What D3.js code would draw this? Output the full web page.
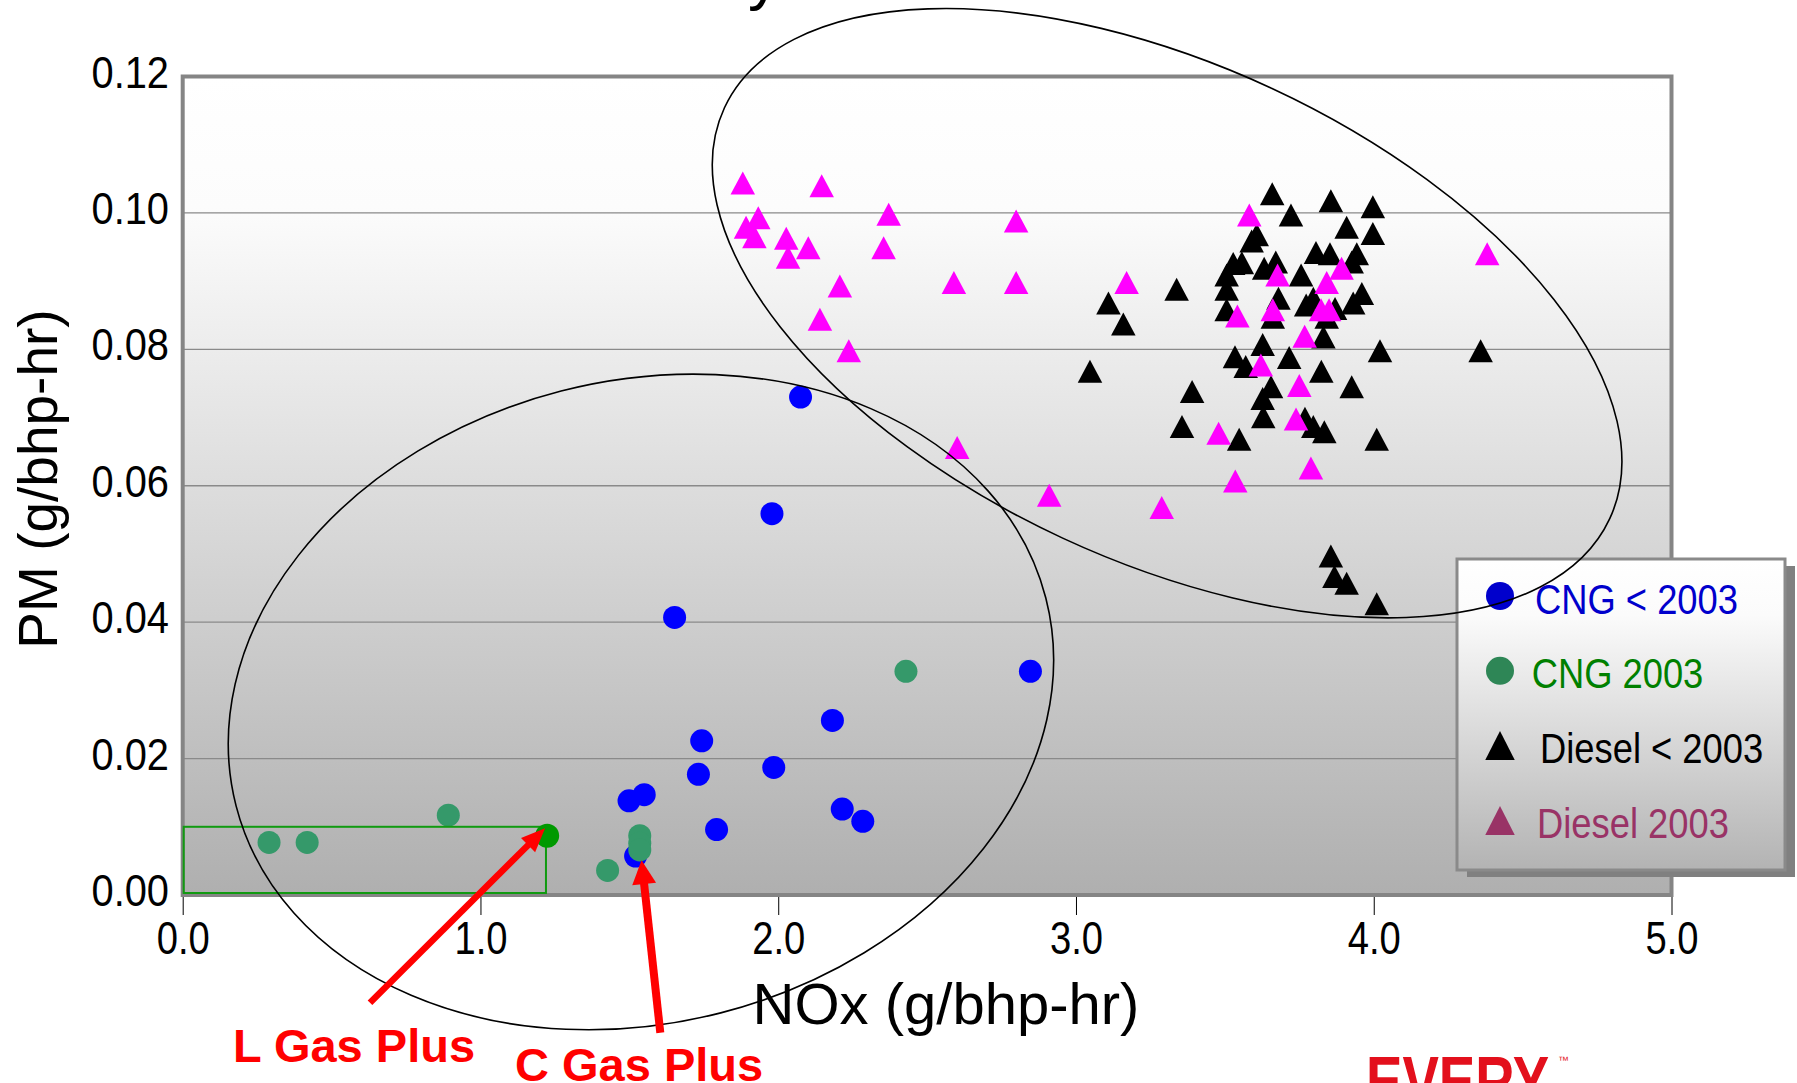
<!DOCTYPE html>
<html><head><meta charset="utf-8">
<script src="https://cdn.jsdelivr.net/npm/d3@7"></script>
<style>html,body{margin:0;padding:0;background:#fff;overflow:hidden}</style>
</head><body>
<svg id="c" width="1797" height="1083" xmlns="http://www.w3.org/2000/svg"></svg>
<script>
// ---------------- DATA ----------------
const xTicks = [0, 1, 2, 3, 4, 5];
const xTickLabels = ["0.0", "1.0", "2.0", "3.0", "4.0", "5.0"];
const yTicks = [0, 0.02, 0.04, 0.06, 0.08, 0.10, 0.12];
const yTickLabels = ["0.00", "0.02", "0.04", "0.06", "0.08", "0.10", "0.12"];
const seriesNames = ["CNG < 2003", "CNG 2003", "Diesel < 2003", "Diesel 2003"];
const xTitle = "NOx (g/bhp-hr)";
const yTitle = "PM (g/bhp-hr)";

// [NOx, PM]
const cngPre2003 = [
  [2.075,0.0730],[1.979,0.0559],[1.652,0.0407],[1.743,0.0226],[1.732,0.0177],
  [1.499,0.0138],[1.550,0.0147],[1.793,0.0096],[1.521,0.0057],[2.182,0.0256],
  [1.985,0.0187],[2.215,0.0126],[2.284,0.0108],[2.847,0.0328]
];
const cng2003 = [
  [0.290,0.0077],[0.418,0.0077],[0.892,0.0117],[1.427,0.0036],
  [1.535,0.0087],[1.535,0.0076],[1.535,0.0066],[2.429,0.0328]
];
const lGasPlusPoint = [[1.224,0.0087]];
const dieselPre2003 = [
  [3.659,0.1028],[3.856,0.1018],[3.997,0.1009],[3.722,0.0997],[3.909,0.0979],
  [3.997,0.0970],[3.607,0.0968],[3.590,0.0959],[3.528,0.0926],[3.557,0.0927],
  [3.506,0.0909],[3.506,0.0888],[3.506,0.0858],[3.338,0.0888],[3.109,0.0868],
  [3.159,0.0837],[3.632,0.0919],[3.671,0.0928],[3.756,0.0909],[3.806,0.0942],
  [3.853,0.0940],[3.943,0.0940],[3.926,0.0928],[3.960,0.0882],[3.931,0.0868],
  [3.680,0.0875],[3.661,0.0847],[3.797,0.0875],[3.870,0.0860],[3.842,0.0847],
  [3.831,0.0818],[3.627,0.0807],[4.021,0.0798],[4.359,0.0798],[3.534,0.0789],
  [3.570,0.0775],[3.716,0.0788],[3.824,0.0768],[3.390,0.0738],[3.926,0.0745],
  [3.655,0.0745],[3.627,0.0728],[3.629,0.0701],[3.769,0.0699],[3.797,0.0687],
  [3.834,0.0679],[3.356,0.0687],[3.548,0.0668],[4.010,0.0668],[3.856,0.0497],
  [3.868,0.0467],[3.909,0.0457],[4.010,0.0427],[3.047,0.0768],[3.773,0.0865]
];
const diesel2003 = [
  [1.881,0.1044],[2.146,0.1040],[1.933,0.0993],[1.892,0.0979],[1.920,0.0965],
  [2.371,0.0998],[2.027,0.0963],[2.101,0.0949],[2.033,0.0935],[2.354,0.0949],
  [2.799,0.0988],[2.207,0.0893],[2.590,0.0898],[2.799,0.0898],[3.170,0.0898],
  [2.140,0.0844],[2.237,0.0798],[2.601,0.0656],[2.910,0.0586],[3.288,0.0568],
  [3.582,0.0997],[3.677,0.0909],[3.892,0.0919],[3.842,0.0898],[3.661,0.0858],
  [3.823,0.0858],[3.850,0.0858],[3.542,0.0849],[3.768,0.0819],[4.381,0.0940],
  [3.621,0.0777],[3.750,0.0747],[3.739,0.0698],[3.479,0.0677],[3.789,0.0626],
  [3.535,0.0607]
];
// annotations (data coordinates)
const annotationLabels = ["L Gas Plus", "C Gas Plus"];
const arrowFrom = [[0.629,-0.0158],[1.604,-0.0202]];
const arrowTo = [[1.217,0.0098],[1.541,0.0051]];
const lowBox = [[0,0],[1.22,0.01]];
const ellipseCenters = [[1.539,0.0283],[3.306,0.0853]];

// ---------------- LAYOUT ----------------
const W = 1797, H = 1083;
const FONT = "'Liberation Sans', Arial, sans-serif";
const svg = d3.select("#c");
const x = d3.scaleLinear().domain([0,5]).range([182.7,1671.5]);
const y = d3.scaleLinear().domain([0,0.12]).range([895,76.5]);

function condense(sel, f){
  sel.each(function(){
    const w = this.getComputedTextLength();
    this.setAttribute("textLength", (w*f).toFixed(1));
    this.setAttribute("lengthAdjust","spacingAndGlyphs");
  });
}

const defs = svg.append("defs");
const g1 = defs.append("linearGradient").attr("id","plotbg").attr("x1",0).attr("y1",0).attr("x2",0).attr("y2",1);
g1.append("stop").attr("offset","0").attr("stop-color","#ffffff");
g1.append("stop").attr("offset","0.16").attr("stop-color","#fcfcfc");
g1.append("stop").attr("offset","1").attr("stop-color","#afafaf");
const g2 = defs.append("linearGradient").attr("id","legbg").attr("x1",0).attr("y1",0).attr("x2",0).attr("y2",1);
g2.append("stop").attr("offset","0").attr("stop-color","#ffffff");
g2.append("stop").attr("offset","0.18").attr("stop-color","#fbfbfb");
g2.append("stop").attr("offset","1").attr("stop-color","#b3b3b3");

svg.append("rect").attr("width",W).attr("height",H).attr("fill","#ffffff");

// title fragment (cut by top edge)
svg.append("text").attr("x",748).attr("y",-2).attr("font-family",FONT)
  .attr("font-size",64).attr("fill","#000").text("y");

const [px0, px1] = x.range();
const [py0, py1] = y.range();
// plot background
svg.append("rect").attr("x",px0).attr("y",py1).attr("width",px1-px0).attr("height",py0-py1)
  .attr("fill","url(#plotbg)");

// gridlines
svg.append("g").selectAll("line").data(yTicks.filter(v=>v>0 && v<0.12)).join("line")
  .attr("x1",px0).attr("x2",px1).attr("y1",d=>y(d)).attr("y2",d=>y(d))
  .attr("stroke","#8a8a8a").attr("stroke-width",1.3);

// markers
const tri = (w,h)=>`M0,${-h/2}L${w/2},${h/2}L${-w/2},${h/2}Z`;
const marks = svg.append("g");
marks.append("g").selectAll("circle").data(cngPre2003).join("circle")
  .attr("cx",d=>x(d[0])).attr("cy",d=>y(d[1])).attr("r",11.5).attr("fill","#0000ff");
marks.append("g").selectAll("circle").data(cng2003).join("circle")
  .attr("cx",d=>x(d[0])).attr("cy",d=>y(d[1])).attr("r",11.5).attr("fill","#35996a");
marks.append("g").selectAll("path").data(dieselPre2003).join("path")
  .attr("d",tri(24.5,23)).attr("transform",d=>`translate(${x(d[0])},${y(d[1])})`).attr("fill","#000");
marks.append("g").selectAll("path").data(diesel2003).join("path")
  .attr("d",tri(24.5,23)).attr("transform",d=>`translate(${x(d[0])},${y(d[1])})`).attr("fill","#ff00ff");

// plot border
svg.append("rect").attr("x",px0).attr("y",py1).attr("width",px1-px0).attr("height",py0-py1)
  .attr("fill","none").attr("stroke","#858585").attr("stroke-width",4);

// low emission box (drawn over the border, slightly inset)
svg.append("rect").attr("x",x(lowBox[0][0])+1).attr("y",y(lowBox[1][1]))
  .attr("width",x(lowBox[1][0])-x(lowBox[0][0])-1).attr("height",y(lowBox[0][1])-y(lowBox[1][1])-2)
  .attr("fill","none").attr("stroke","#109a10").attr("stroke-width",2);
svg.append("g").selectAll("circle").data(lGasPlusPoint).join("circle")
  .attr("cx",d=>x(d[0])).attr("cy",d=>y(d[1])).attr("r",12).attr("fill","#009900");

// x axis
const xAxis = d3.axisBottom(x).tickValues(xTicks).tickSize(20).tickFormat((d,i)=>xTickLabels[i]);
const gx = svg.append("g").attr("transform",`translate(0,${py0})`).call(xAxis);
gx.select(".domain").remove();
gx.selectAll(".tick line").attr("stroke","#000").attr("stroke-width",1).attr("y1",2);
gx.selectAll(".tick text").attr("y",59).attr("dy",0).attr("font-family",FONT)
  .attr("font-size",46).attr("fill","#000").call(condense,0.83);

// y axis
const yAxis = d3.axisLeft(y).tickValues(yTicks).tickSize(0).tickFormat((d,i)=>yTickLabels[i]);
const gy = svg.append("g").attr("transform",`translate(${px0},0)`).call(yAxis);
gy.select(".domain").remove();
gy.selectAll(".tick text").attr("x",-13.7).attr("y",10.5).attr("dy",0).attr("font-family",FONT)
  .attr("font-size",45).attr("fill","#000").call(condense,0.885);

// axis titles
svg.append("text").attr("x",946).attr("y",1024).attr("text-anchor","middle")
  .attr("font-family",FONT).attr("font-size",58).attr("fill","#000").text(xTitle);
svg.append("text").attr("transform","translate(57,479) rotate(-90)").attr("text-anchor","middle")
  .attr("font-family",FONT).attr("font-size",55).attr("fill","#000").text(yTitle);

// legend
const L = {x:1457, y:559, w:328, h:311};
svg.append("rect").attr("x",L.x+10).attr("y",L.y+7).attr("width",L.w).attr("height",L.h).attr("fill","#808080");
svg.append("rect").attr("x",L.x).attr("y",L.y).attr("width",L.w).attr("height",L.h)
  .attr("fill","url(#legbg)").attr("stroke","#8a8a8a").attr("stroke-width",3);
const legendColors = ["#0000cc","#008000","#000000","#993366"];
const markerColors = ["#0000cc","#2e8656","#000000","#993366"];
const legTextX = [1535,1531.7,1540,1537];
const legFactor = 0.865;
seriesNames.forEach((name,i)=>{
  const cy = 596 + i*74.8;
  if(i<2){
    svg.append("circle").attr("cx",1500).attr("cy",cy).attr("r",14).attr("fill",markerColors[i]);
  } else {
    svg.append("path").attr("d",tri(29.5,29)).attr("transform",`translate(${1500},${cy})`).attr("fill",markerColors[i]);
  }
  svg.append("text").attr("x",legTextX[i]).attr("y",cy+17.5).attr("font-family",FONT)
    .attr("font-size",42).attr("fill",legendColors[i]).text(name).call(condense,legFactor);
});

// ellipses (drawn on top)
const ellipseRadii = [[418,321],[488,248]];
const ellipseRot = [-14.4, 24.9];
svg.append("g").selectAll("ellipse").data(ellipseCenters).join("ellipse")
  .attr("transform",(d,i)=>`translate(${x(d[0])},${y(d[1])}) rotate(${ellipseRot[i]})`)
  .attr("rx",(d,i)=>ellipseRadii[i][0]).attr("ry",(d,i)=>ellipseRadii[i][1])
  .attr("fill","none").attr("stroke","#000").attr("stroke-width",1.6);

// arrows
const arrowW = [6.5, 8], headL = [24, 24], headW = [20, 24];
arrowFrom.forEach((f,i)=>{
  const x1=x(f[0]), y1=y(f[1]), x2=x(arrowTo[i][0]), y2=y(arrowTo[i][1]);
  const dx=x2-x1, dy=y2-y1, len=Math.hypot(dx,dy), ux=dx/len, uy=dy/len;
  const bx=x2-ux*headL[i], by=y2-uy*headL[i];
  svg.append("line").attr("x1",x1).attr("y1",y1).attr("x2",bx+ux*2).attr("y2",by+uy*2)
    .attr("stroke","#ff0000").attr("stroke-width",arrowW[i]);
  const nx=-uy, ny=ux, hw=headW[i]/2;
  svg.append("path").attr("d",`M${x2},${y2}L${bx+nx*hw},${by+ny*hw}L${bx-nx*hw},${by-ny*hw}Z`).attr("fill","#ff0000");
});
const annX = [233, 515], annY = [1062, 1081];
annotationLabels.forEach((t,i)=>{
  svg.append("text").attr("x",annX[i]).attr("y",annY[i]).attr("font-family",FONT)
    .attr("font-weight","bold").attr("font-size",47).attr("fill","#ff0000").text(t);
});

// logo fragment at bottom (cut by bottom edge, as in the reference)
svg.append("text").attr("transform","translate(1366,1106) scale(0.78,1)").attr("font-family",FONT)
  .attr("font-weight","bold").attr("font-size",70).attr("fill","#e3101c").text("EVERY");
svg.append("text").attr("x",1558).attr("y",1064).attr("font-family",FONT)
  .attr("font-size",11).attr("fill","#e3101c").text("™");
</script>
</body></html>
